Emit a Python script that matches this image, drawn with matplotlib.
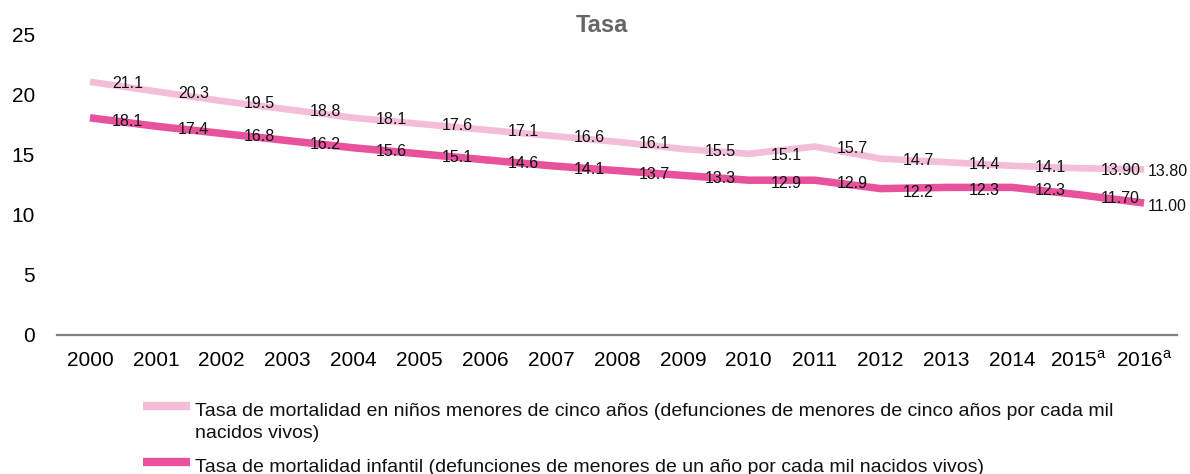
import matplotlib
matplotlib.use("Agg")
import matplotlib.pyplot as plt
from matplotlib.lines import Line2D

plt.rcParams["font.family"] = ["Liberation Sans", "DejaVu Sans"]
plt.rcParams["mathtext.fontset"] = "custom"
plt.rcParams["mathtext.rm"] = "Liberation Sans"

years = ["2000", "2001", "2002", "2003", "2004", "2005", "2006", "2007", "2008",
         "2009", "2010", "2011", "2012", "2013", "2014", r"2015$^{\rm a}$", r"2016$^{\rm a}$"]
menores_cinco = [21.1, 20.3, 19.5, 18.8, 18.1, 17.6, 17.1, 16.6, 16.1,
                 15.5, 15.1, 15.7, 14.7, 14.4, 14.1, 13.90, 13.80]
infantil = [18.1, 17.4, 16.8, 16.2, 15.6, 15.1, 14.6, 14.1, 13.7,
            13.3, 12.9, 12.9, 12.2, 12.3, 12.3, 11.70, 11.00]
decimales = [1] * 15 + [2] * 2
series_names = [
    "Tasa de mortalidad en niños menores de cinco años (defunciones de menores de cinco años por cada mil\nnacidos vivos)",
    "Tasa de mortalidad infantil (defunciones de menores de un año por cada mil nacidos vivos)",
]
title = "Tasa"
yticks = [0, 5, 10, 15, 20, 25]

color_light = "#F5BED8"
color_dark = "#E8519C"

W, H = 1190, 474
fig = plt.figure(figsize=(W / 100, H / 100), dpi=100)
ax = fig.add_axes([57 / W, 1 - 335 / H, (1177 - 57) / W, 300 / H])

x = list(range(len(years)))
ax.plot(x, menores_cinco, color=color_light, lw=4.8, solid_capstyle="butt", solid_joinstyle="miter")
ax.plot(x, infantil, color=color_dark, lw=5.4, solid_capstyle="butt", solid_joinstyle="miter")

ax.set_xlim(-0.5, len(years) - 0.5)
ax.set_ylim(0, 25)
ax.set_xticks(x)
ax.set_xticklabels(years, fontsize=15)
for t in ax.get_xticklabels():
    t.set_verticalalignment("baseline")
ax.set_yticks(yticks)
ax.set_yticklabels([str(t) for t in yticks], fontsize=15)
ax.tick_params(axis="both", length=0)
ax.tick_params(axis="y", pad=16)
ax.tick_params(axis="x", pad=22.5)
for side in ("top", "right", "left"):
    ax.spines[side].set_visible(False)
ax.spines["bottom"].set_color("#7f7f7f")
ax.spines["bottom"].set_linewidth(1.6)

# value labels sit to the right of each point
def label_series(values, dy):
    n = len(values)
    for i, (v, d) in enumerate(zip(values, decimales)):
        dx = 2.5 if i == n - 1 else 16.0
        ax.annotate(f"{v:.{d}f}", (i, v), xytext=(dx, dy), textcoords="offset points",
                    ha="left", va="center", fontsize=11.5, color="#111111")

label_series(menores_cinco, -1.5)
label_series(infantil, -2.5)

fig.text(602 / W, 1 - 26 / H, title, ha="center", va="center", fontsize=17,
         fontweight="bold", color="#666666")

# legend drawn in figure pixel space: swatch row and first text baseline per entry
legend_rows = [(405.5, 416.5, color_light), (461.5, 472.0, color_dark)]
line_step = 21.5
for (sy, by, col), name in zip(legend_rows, series_names):
    fig.add_artist(Line2D([143 / W, 190 / W], [1 - sy / H, 1 - sy / H], color=col, lw=6.0,
                          solid_capstyle="butt", transform=fig.transFigure))
    for k, line in enumerate(name.split("\n")):
        fig.text(195 / W, 1 - (by + k * line_step) / H, line, ha="left", va="baseline",
                 fontsize=14, color="#111111")

fig.savefig("out.png", dpi=100)
